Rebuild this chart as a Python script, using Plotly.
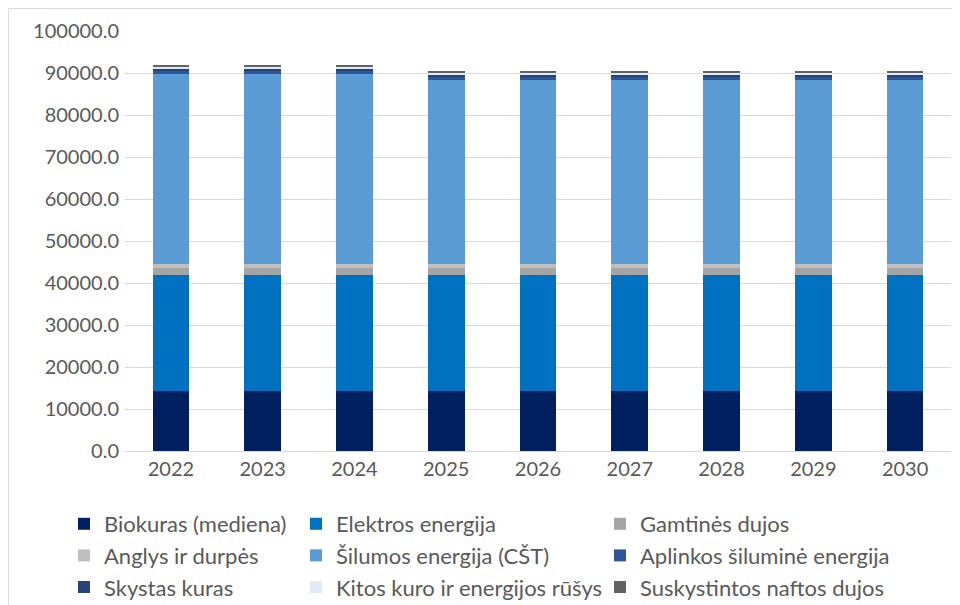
import plotly.graph_objects as go

years = ["2022", "2023", "2024", "2025", "2026", "2027", "2028", "2029", "2030"]

biokuras = [14350, 14350, 14350, 14350, 14350, 14350, 14350, 14350, 14350]
elektros = [27550, 27550, 27550, 27550, 27550, 27550, 27550, 27550, 27550]
gamtines = [1750, 1750, 1750, 1750, 1750, 1750, 1750, 1750, 1750]
anglys = [900, 900, 900, 900, 900, 900, 900, 900, 900]
silumos = [45200, 45200, 45200, 43800, 43800, 43800, 43800, 43800, 43800]
aplinkos = [700, 700, 700, 700, 700, 700, 700, 700, 700]
skystas = [700, 700, 700, 700, 700, 700, 700, 700, 700]
kitos = [450, 450, 450, 450, 450, 450, 450, 450, 450]
suskystintos = [250, 250, 250, 250, 250, 250, 250, 250, 250]

# name, values, colour, legend column
series = [
    ("Biokuras (mediena)", biokuras, "#002060", "legend"),
    ("Elektros energija", elektros, "#0070C0", "legend2"),
    ("Gamtinės dujos", gamtines, "#A5A5A5", "legend3"),
    ("Anglys ir durpės", anglys, "#BFBFBF", "legend"),
    ("Šilumos energija (CŠT)", silumos, "#5B9BD5", "legend2"),
    ("Aplinkos šiluminė energija", aplinkos, "#2F5597", "legend3"),
    ("Skystas kuras", skystas, "#264478", "legend"),
    ("Kitos kuro ir energijos rūšys", kitos, "#DEEBF7", "legend2"),
    ("Suskystintos naftos dujos", suskystintos, "#636363", "legend3"),
]

fig = go.Figure()
for name, vals, col, leg in series:
    fig.add_trace(go.Bar(
        name=name, x=years, y=vals,
        marker=dict(color=col, line=dict(width=0)),
        legend=leg, legendgroup=name,
    ))

tick_font = dict(family="Lato, Carlito, sans-serif", size=20, color="#595959")
leg_font = dict(family="Lato, Carlito, sans-serif", size=22, color="#595959")
leg_common = dict(
    orientation="v", xref="container", yref="container",
    yanchor="top", xanchor="left", y=1 - 495 / 605, traceorder="normal",
    tracegroupgap=0, font=leg_font, bgcolor="rgba(0,0,0,0)",
)

L, R, T, B = 117, 17, 23, 162
PW, PH = 960 - L - R, 605 - T - B

fig.update_layout(
    width=960, height=605,
    barmode="stack", bargap=0.6,
    paper_bgcolor="white", plot_bgcolor="white",
    margin=dict(l=L, r=R, t=T, b=B, autoexpand=False),
    font=tick_font,
    legend=dict(x=56 / 960, **leg_common),
    legend2=dict(x=288 / 960, **leg_common),
    legend3=dict(x=592 / 960, **leg_common),
    xaxis=dict(type="category", showline=True, linecolor="#D9D9D9",
               linewidth=1, ticks="", tickfont=tick_font),
    yaxis=dict(range=[0, 100000], dtick=10000, tickformat=".1f",
               showgrid=True, gridcolor="#D9D9D9", gridwidth=1,
               zeroline=False, ticks="", tickfont=tick_font,
               ticklabelstandoff=5),
    shapes=[dict(type="rect", xref="paper", yref="paper",
                 x0=(0.5 - L) / PW, x1=(960 + 20 - L) / PW,
                 y0=-(B + 20) / PH, y1=(PH + T - 0.5) / PH,
                 line=dict(color="#D9D9D9", width=1), layer="below")],
)

fig.write_html("out.html")
